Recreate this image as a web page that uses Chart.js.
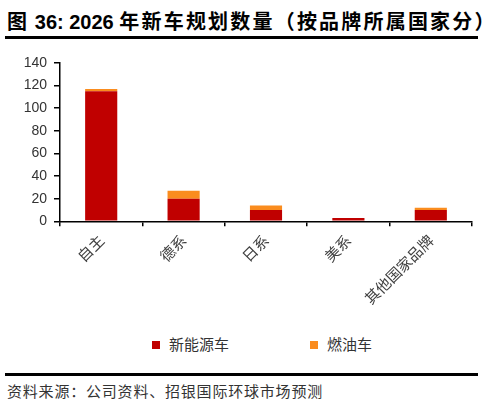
<!DOCTYPE html>
<html>
<head>
<meta charset="utf-8">
<script src="https://cdn.jsdelivr.net/npm/chart.js@4.4.1/dist/chart.umd.min.js"></script>
<style>
    body { margin: 0; background: #fff; font-family: "Liberation Sans", "Noto Sans CJK SC", sans-serif; }
    #page { position: relative; width: 501px; height: 408px; overflow: hidden; }
    #title { position: absolute; left: 7px; top: 6px; font-size: 20px; font-weight: bold; color: #000; white-space: nowrap; }
    #title .cjk { letter-spacing: 2.2px; }
    .rule { position: absolute; left: 5px; width: 473px; height: 3px; background: #000; }
    #chartBox { position: absolute; left: 0; top: 42px; width: 501px; height: 280px; }
    #legend { position: absolute; left: 152px; top: 333px; font-family: "Noto Sans CJK SC", sans-serif; font-size: 15px; color: #333; white-space: nowrap; }
    #legend span.item { display: inline-block; margin-right: 81px; }
    #legend i { display: inline-block; width: 8px; height: 8px; margin-right: 9px; vertical-align: 1px; }
    #source { position: absolute; left: 7px; top: 380px; font-family: "Noto Sans CJK SC", sans-serif; font-size: 15px; letter-spacing: 0.8px; color: #333; white-space: nowrap; }
</style>
</head>
<body>
<div id="page">
    <div id="title"><span class="cjk">图</span> 36: 2026 <span class="cjk">年新车规划数量（按品牌所属国家分）</span></div>
    <div class="rule" style="top:36px"></div>
    <div id="chartBox"><canvas id="brandChart"></canvas></div>
    <div id="legend"></div>
    <div class="rule" style="top:373px"></div>
    <div id="source">资料来源：公司资料、招银国际环球市场预测</div>
</div>
<script>
const categories = ['自主', '德系', '日系', '美系', '其他国家品牌'];
const seriesNames = ['新能源车', '燃油车'];
const newEnergy = [115, 20, 10, 3, 10];
const fuelCars = [2, 7, 4, 0, 2];
const seriesColors = ['#C00000', '#FA8C1E'];
const yTicks = [0, 20, 40, 60, 80, 100, 120, 140];

const seriesValues = [newEnergy, fuelCars];

// legend built from the same series arrays
document.getElementById('legend').innerHTML = seriesNames.map((name, i) =>
    `<span class="item"><i style="background:${seriesColors[i]}"></i>${name}</span>`).join('');

const ctx = document.getElementById('brandChart').getContext('2d');
new Chart(ctx, {
    type: 'bar',
    data: {
        labels: categories,
        datasets: seriesNames.map((name, i) => ({
            label: name,
            data: seriesValues[i],
            backgroundColor: seriesColors[i],
            borderWidth: 0,
            barPercentage: 0.39,
            categoryPercentage: 1
        }))
    },
    options: {
        responsive: true,
        maintainAspectRatio: false,
        animation: false,
        layout: {
            padding: { left: 0, right: 29, top: 21, bottom: 0 }
        },
        plugins: {
            legend: { display: false },
            tooltip: { enabled: false }
        },
        scales: {
            x: {
                stacked: true,
                afterFit: scale => { scale.height = 100.7; },
                border: { color: '#000', width: 1.5 },
                grid: {
                    display: true,
                    drawOnChartArea: false,
                    drawTicks: true,
                    tickLength: 5,
                    color: '#000',
                    lineWidth: 1.5
                },
                ticks: {
                    minRotation: 45,
                    maxRotation: 45,
                    autoSkip: false,
                    padding: 5,
                    color: '#404040',
                    font: { family: '"Noto Sans CJK SC"', size: 15 }
                }
            },
            y: {
                stacked: true,
                min: 0,
                max: 140,
                afterFit: scale => { scale.width = 60; },
                afterBuildTicks: scale => { scale.ticks = yTicks.map(v => ({ value: v })); },
                border: { color: '#000', width: 1.5 },
                grid: {
                    display: true,
                    drawOnChartArea: false,
                    drawTicks: true,
                    tickLength: 6,
                    color: '#000',
                    lineWidth: 1.5
                },
                ticks: {
                    padding: 7,
                    color: '#333',
                    font: { family: '"Liberation Sans"', size: 14 }
                }
            }
        }
    }
});
</script>
</body>
</html>
